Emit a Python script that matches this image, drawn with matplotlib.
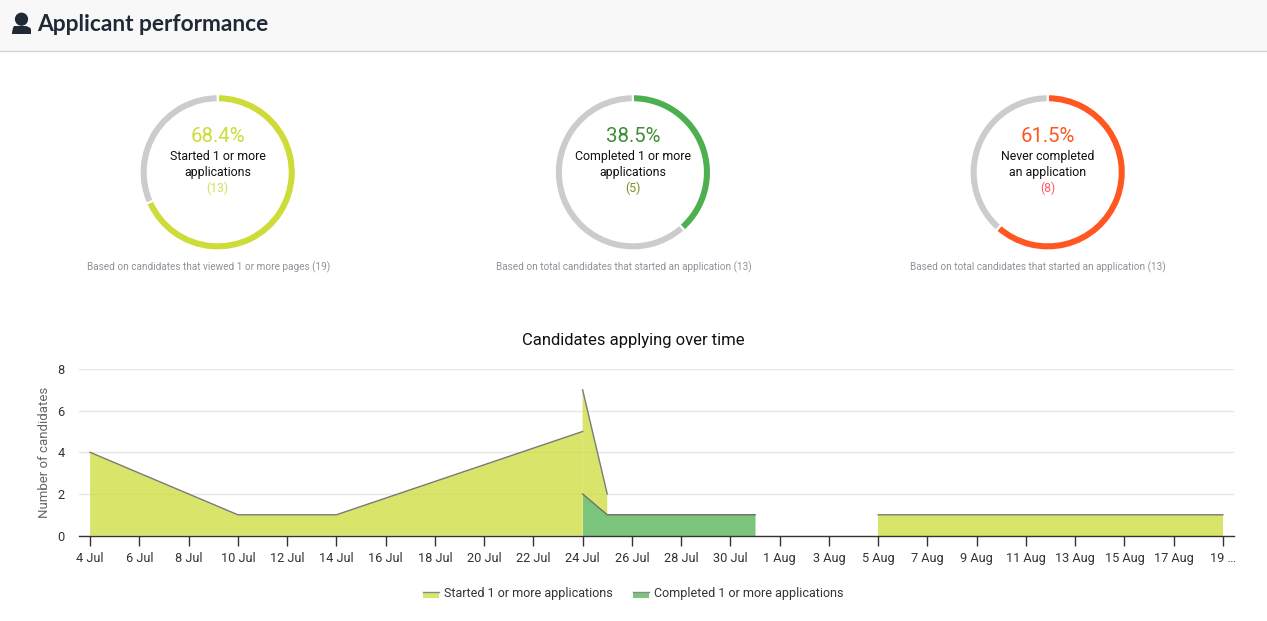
import numpy as np
import pandas as pd
import matplotlib
matplotlib.use("Agg")
import matplotlib.pyplot as plt
from matplotlib.patches import Rectangle, Circle, PathPatch
from matplotlib.path import Path
from matplotlib.lines import Line2D

W, H = 1267, 621
FONT = "Roboto"

# ---- data ----
gauge_values = [13, 5, 8]
gauge_totals = [19, 13, 13]
gauge_pct = ["68.4%", "38.5%", "61.5%"]
gauge_labels = ["Started 1 or more\napplications", "Completed 1 or more\napplications", "Never completed\nan application"]
gauge_counts = ["(13)", "(5)", "(8)"]
gauge_notes = ["Based on candidates that viewed 1 or more pages (19)",
               "Based on total candidates that started an application (13)",
               "Based on total candidates that started an application (13)"]

started_dates = ["4 Jul", "10 Jul", "14 Jul", "24 Jul", "24 Jul", "24 Jul", "25 Jul", "25 Jul", "25 Jul", "31 Jul", "31 Jul", "5 Aug", "19 Aug"]
started_vals = [4, 1, 1, 5, np.nan, 7, 2, np.nan, 1, 1, np.nan, 1, 1]
completed_dates = ["24 Jul", "25 Jul", "31 Jul"]
completed_vals = [2, 1, 1]
tick_dates = ["4 Jul", "6 Jul", "8 Jul", "10 Jul", "12 Jul", "14 Jul", "16 Jul", "18 Jul", "20 Jul", "22 Jul", "24 Jul", "26 Jul",
              "28 Jul", "30 Jul", "1 Aug", "3 Aug", "5 Aug", "7 Aug", "9 Aug", "11 Aug", "13 Aug", "15 Aug", "17 Aug", "19 Aug"]
tick_labels = tick_dates[:-1] + ["19 …"]
y_ticks = [0, 2, 4, 6, 8]

YELLOW, GREEN, ORANGE, GREY = "#CDDC39", "#4CAF50", "#FF5722", "#CCCCCC"
gauge_colors = [YELLOW, GREEN, ORANGE]
pct_colors = ["#CDDC39", "#3E8E36", "#FF5722"]
count_colors = ["#D4E157", "#7E8F1E", "#FF5C6C"]


def to_days(labels):
    return pd.to_datetime([s + " 2021" for s in labels], format="%d %b %Y")


def px_axes(x0, y0, x1, y1, **kw):
    return fig.add_axes([x0 / W, 1 - y1 / H, (x1 - x0) / W, (y1 - y0) / H], **kw)


fig = plt.figure(figsize=(W / 100, H / 100), dpi=100, facecolor="white")

# overlay in pixel units for the page header
page = fig.add_axes([0, 0, 1, 1], zorder=0)
page.set_xlim(0, W)
page.set_ylim(H, 0)
page.axis("off")
page.add_patch(Rectangle((0, 0), W, 51, fc="#F8F8F8", ec="none"))
page.plot([0, W], [51, 51], color="#D2D2D2", lw=1)
page.add_patch(Circle((21.5, 19.2), 6.6, fc="#1F2A36", ec="none"))
body = Path([(12, 34), (12, 29), (14, 26), (18, 26), (25, 26), (29, 26), (31, 29), (31, 34), (12, 34)],
            [Path.MOVETO, Path.CURVE3, Path.CURVE3, Path.LINETO, Path.LINETO, Path.CURVE3, Path.CURVE3, Path.LINETO, Path.CLOSEPOLY])
page.add_patch(PathPatch(body, fc="#1F2A36", ec="none"))
page.text(37.5, 24.6, "Applicant performance", fontsize=16.4, family="Lato", weight="bold",
          color="#1F2A36", va="center", ha="left")

# gauges
centers = [217.7, 632.9, 1047.7]
CY, R = 172.3, 78.2
for i, cx in enumerate(centers):
    ax = px_axes(cx - R, CY - R, cx + R, CY + R)
    ax.pie([gauge_values[i], gauge_totals[i] - gauge_values[i]], colors=[gauge_colors[i], GREY],
           startangle=90, counterclock=False, radius=1,
           wedgeprops=dict(width=8.3 / R, edgecolor="white", linewidth=1.6))
    ax.set_xlim(-1, 1)
    ax.set_ylim(-1, 1)
    ax.axis("off")
    page.text(cx, 136.3, gauge_pct[i], color=pct_colors[i], fontsize=14.7, family=FONT, ha="center", va="center")
    l1, l2 = gauge_labels[i].split("\n")
    page.text(cx, 156.3, l1, color="#111111", fontsize=8.95, family=FONT, ha="center", va="center")
    page.text(cx, 172.3, l2, color="#111111", fontsize=8.95, family=FONT, ha="center", va="center")
    page.text(cx, 188, gauge_counts[i], color=count_colors[i], fontsize=8.95, family=FONT, ha="center", va="center")
    page.text(cx - 9.5, 267, gauge_notes[i], color="#8E939A", fontsize=7.2,
              family=FONT, ha="center", va="center")

# area chart
ax = px_axes(79, 369, 1234, 535.6)
ax.set_facecolor("none")
xs = to_days(started_dates)
xc = to_days(completed_dates)
sv = np.array(started_vals, dtype=float)
ax.fill_between(xs, 0, sv, color=YELLOW, alpha=0.75, lw=0, zorder=2)
ax.plot(xs, sv, color="#7A7A7A", lw=1, zorder=3)
ax.fill_between(xc, 0, completed_vals, color="#7AC47C", lw=0, zorder=4)
ax.plot(xc, completed_vals, color="#707070", lw=1, zorder=5)

ticks = to_days(tick_dates)
pad = pd.Timedelta(hours=10.8)
ax.set_xlim(ticks[0] - pad, ticks[-1] + pad)
ax.set_ylim(0, 8)
ax.set_xticks(ticks)
ax.set_xticklabels(tick_labels, family=FONT, fontsize=9.2, color="#333333")
ax.set_yticks(y_ticks)
ax.set_yticklabels([str(v) for v in y_ticks], family=FONT, fontsize=9.2, color="#333333")
ax.tick_params(axis="x", length=7, width=1, color="#333333", pad=5)
ax.tick_params(axis="y", length=0, pad=10.5)
ax.grid(axis="y", color="#E6E6E6", lw=1)
ax.set_axisbelow(True)
for s in ["top", "left", "right"]:
    ax.spines[s].set_visible(False)
ax.spines["bottom"].set_color("#333333")
ax.spines["bottom"].set_linewidth(1)
ax.spines["bottom"].set_zorder(6)
ax.set_ylabel("Number of candidates", family=FONT, fontsize=9.5, color="#666666")
ax.yaxis.set_label_coords((51 - 79) / (1234 - 79), 0.5)
page.text(633, 340, "Candidates applying over time", family=FONT, fontsize=12, color="#111111",
          ha="center", va="center")


class SwatchHandler:
    def __init__(self, color):
        self.color = color

    def legend_artist(self, legend, orig, fontsize, box):
        x0, y0 = box.xdescent, box.ydescent
        w, h = box.width, box.height
        r = Rectangle((x0, y0), w, h * 0.8, fc=self.color, ec="none", transform=box.get_transform())
        l = Line2D([x0, x0 + w], [y0 + h * 0.8] * 2, color="#8A8A8A", lw=1, transform=box.get_transform())
        box.add_artist(r)
        box.add_artist(l)
        return r


h1, h2 = Line2D([], []), Line2D([], [])
leg = ax.legend([h1, h2], ["Started 1 or more applications", "Completed 1 or more applications"],
                handler_map={h1: SwatchHandler("#DAE56E"), h2: SwatchHandler("#7AC47C")},
                ncol=2, frameon=False, loc="center", bbox_to_anchor=((633 - 79) / 1155, (536 - 593.5) / 166.5),
                prop=dict(family=FONT, size=9.0), labelcolor="#333333",
                handlelength=1.28, handleheight=0.5, handletextpad=0.4, columnspacing=1.6)

fig.savefig("out.png", dpi=100)
